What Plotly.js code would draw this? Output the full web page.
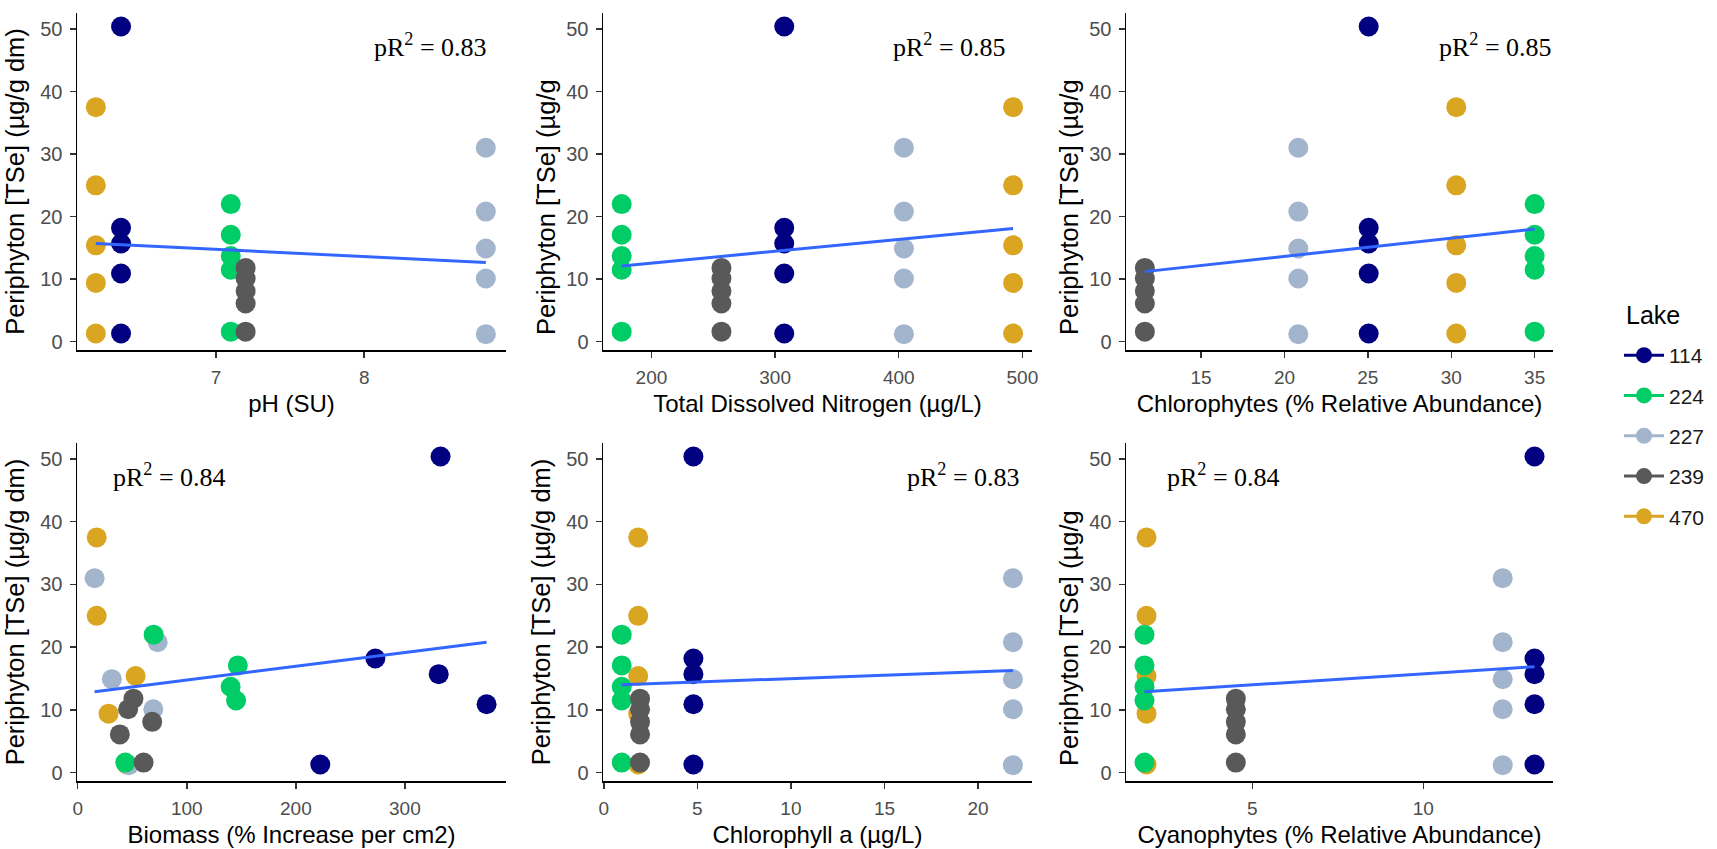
<!DOCTYPE html>
<html>
<head>
<meta charset="utf-8">
<script src="https://cdn.plot.ly/plotly-3.0.1.min.js"></script>
<style>
html,body{margin:0;padding:0;background:#ffffff;}
#chart{width:1717px;height:849px;}
</style>
</head>
<body>
<div id="chart"></div>
<script>
// ---------------- DATA ----------------
const lakes = ['114', '224', '227', '239', '470'];
const lakeColors = ['#000080', '#00CD66', '#A2B5CD', '#595959', '#DAA520'];

// Periphyton [TSe] (µg/g dm), five samples per lake
const tse114 = [50.4, 18.2, 15.7, 10.9, 1.3];
const tse224 = [22.0, 17.1, 13.7, 11.5, 1.6];
const tse227 = [31.0, 20.8, 14.9, 10.1, 1.2];
const tse239 = [11.8, 10.1, 8.1, 6.1, 1.6];
const tse470 = [37.5, 25.0, 15.4, 9.4, 1.3];

// One value per lake (order of `lakes`)
const pH = [6.36, 7.10, 8.82, 7.20, 6.19];
const totalDissolvedN = [307.4, 175.9, 404.2, 256.6, 492.5];
const chlorophytes = [25.05, 35.0, 20.83, 11.63, 30.3];
const chlorophyllA = [4.79, 0.96, 21.86, 1.94, 1.84];
const cyanophytes = [13.25, 1.85, 12.32, 4.52, 1.91];

// Biomass (% increase per cm2), one value per sample
const biomass114 = [332.7, 272.9, 331.0, 374.9, 222.4];
const biomass224 = [69.6, 146.8, 140.2, 145.2, 43.6];
const biomass227 = [15.5, 73.3, 31.3, 69.3, 47.0];
const biomass239 = [51.1, 46.2, 68.3, 38.6, 60.4];
const biomass470 = [17.4, 17.4, 53.1, 28.3, 45.0];

// Fitted (lm) line end points per panel
const fitX_pH = [6.19, 8.82],            fitY_pH = [15.7, 12.66];
const fitX_tdn = [175.9, 492.5],         fitY_tdn = [12.1, 18.1];
const fitX_chloro = [11.63, 35.0],       fitY_chloro = [11.2, 18.0];
const fitX_biomass = [15.5, 374.9],      fitY_biomass = [12.9, 20.8];
const fitX_chlA = [0.96, 21.86],         fitY_chlA = [14.0, 16.3];
const fitX_cyano = [1.85, 13.25],        fitY_cyano = [12.9, 16.9];

const pR2 = ['0.83', '0.85', '0.85', '0.84', '0.83', '0.84'];
const xTitles = ['pH (SU)', 'Total Dissolved Nitrogen (µg/L)', 'Chlorophytes (% Relative Abundance)',
                 'Biomass (% Increase per cm2)', 'Chlorophyll a (µg/L)', 'Cyanophytes (% Relative Abundance)'];
const yTitleFull = 'Periphyton [TSe] (µg/g dm)';
const yTitleCut = 'Periphyton [TSe] (µg/g';
const legendTitle = 'Lake';
const xTicks = [[7, 8], [200, 300, 400, 500], [15, 20, 25, 30, 35], [0, 100, 200, 300], [0, 5, 10, 15, 20], [5, 10]];
const yTicks = [0, 10, 20, 30, 40, 50];

// ---------------- BUILD ----------------
const tseByLake = [tse114, tse224, tse227, tse239, tse470];
const biomassByLake = [biomass114, biomass224, biomass227, biomass239, biomass470];
const perLake = [pH, totalDissolvedN, chlorophytes, null, chlorophyllA, cyanophytes];
const fits = [[fitX_pH, fitY_pH], [fitX_tdn, fitY_tdn], [fitX_chloro, fitY_chloro],
              [fitX_biomass, fitY_biomass], [fitX_chlA, fitY_chlA], [fitX_cyano, fitY_cyano]];
const drawOrder = [4, 2, 1, 3, 0]; // 470, 227, 224, 239, 114 (navy on top)

const W = 1717, H = 849;
const colsPx = [[77, 506], [603, 1032], [1126, 1553]];
const rowsPx = [[13, 350], [443, 781]];
const xRanges = [[6.063, 8.956], [160.8, 507.8], [10.5, 36.1], [-0.66, 392.7], [-0.04, 22.88], [1.31, 13.79]];
const yRange = [-1.33, 52.55];
const annX = [8.448, 441, 32.66, 84.2, 19.23, 4.15];

const sansFont = 'Liberation Sans, Arial, sans-serif';
const serifFont = 'Liberation Serif, Times New Roman, serif';

const traces = [];
const layout = {
  width: W, height: H,
  margin: {l: 0, r: 0, t: 0, b: 0},
  paper_bgcolor: '#ffffff', plot_bgcolor: '#ffffff',
  font: {family: sansFont, color: '#000000'},
  showlegend: true,
  legend: {
    x: 1619 / W, xanchor: 'left', y: 1 - 335 / H, yanchor: 'top',
    font: {family: sansFont, size: 21, color: '#1a1a1a'},
    tracegroupgap: 10, itemwidth: 40, bgcolor: 'rgba(0,0,0,0)'
  },
  annotations: [{
    text: legendTitle, xref: 'paper', yref: 'paper', x: 1624 / W, y: 1 - 315 / H,
    xanchor: 'left', yanchor: 'middle', showarrow: false,
    font: {family: sansFont, size: 25, color: '#000000'}
  }]
};

for (let p = 0; p < 6; p++) {
  const r = Math.floor(p / 3), c = p % 3;
  const sfx = p === 0 ? '' : String(p + 1);
  const xa = 'x' + sfx, ya = 'y' + sfx;
  const dx = colsPx[c], dy = rowsPx[r];
  layout['xaxis' + sfx] = {
    domain: [dx[0] / W, dx[1] / W], anchor: ya, range: xRanges[p],
    tickmode: 'array', tickvals: xTicks[p], ticktext: xTicks[p].map(String),
    showgrid: false, zeroline: false, showline: true, linecolor: '#000000', linewidth: 1.5,
    ticks: 'outside', ticklen: 6, tickwidth: 1.5, tickcolor: '#333333', ticklabelstandoff: 4,
    tickfont: {family: sansFont, size: 19, color: '#4D4D4D'},
    title: {text: xTitles[p], font: {family: sansFont, size: 24, color: '#000000'}, standoff: 8},
    automargin: false, fixedrange: true
  };
  const showFull = (p === 0 || p === 3 || p === 4);
  const yax = {
    domain: [1 - dy[1] / H, 1 - dy[0] / H], anchor: xa, range: yRange,
    tickmode: 'array', tickvals: yTicks, ticktext: yTicks.map(String),
    showgrid: false, zeroline: false, showline: true, linecolor: '#000000', linewidth: 1.5,
    ticks: 'outside', ticklen: 6, tickwidth: 1.5, tickcolor: '#333333', ticklabelstandoff: 3,
    tickfont: {family: sansFont, size: 20, color: '#4D4D4D'},
    automargin: false, fixedrange: true
  };
  if (showFull) {
    yax.title = {text: yTitleFull, font: {family: sansFont, size: 25.5, color: '#000000'}, standoff: 8};
  } else {
    layout.annotations.push({
      text: yTitleCut, xref: 'paper', yref: 'paper',
      x: (dx[0] - 57) / W, y: 1 - (dy[1] - 13) / H,
      xanchor: 'center', yanchor: 'bottom', textangle: -90, showarrow: false,
      font: {family: sansFont, size: 25.5, color: '#000000'}
    });
  }
  layout['yaxis' + sfx] = yax;
  layout.annotations.push({
    text: 'pR<sup>2</sup> = ' + pR2[p], xref: xa, yref: ya, x: annX[p], y: 47.3,
    xanchor: 'center', yanchor: 'middle', showarrow: false,
    font: {family: serifFont, size: 26, color: '#000000'}
  });

  drawOrder.forEach(k => {
    const xs = p === 3 ? biomassByLake[k] : tseByLake[k].map(() => perLake[p][k]);
    traces.push({
      type: 'scatter', mode: 'markers', x: xs, y: tseByLake[k],
      xaxis: xa, yaxis: ya, name: lakes[k], legendgroup: lakes[k], showlegend: false,
      marker: {color: lakeColors[k], size: 20, line: {width: 0}},
      hoverinfo: 'x+y+name'
    });
  });
  traces.push({
    type: 'scatter', mode: 'lines', x: fits[p][0], y: fits[p][1],
    xaxis: xa, yaxis: ya, showlegend: false,
    line: {color: '#3366FF', width: 3}, hoverinfo: 'skip'
  });
}

// legend keys (point + line), no plotted data
lakes.forEach((lk, k) => {
  traces.push({
    type: 'scatter', mode: 'lines+markers', x: [null], y: [null],
    xaxis: 'x', yaxis: 'y', name: lk, legendgroup: lk, showlegend: true, legendrank: k + 1,
    marker: {color: lakeColors[k], size: 20}, line: {color: lakeColors[k], width: 3},
    hoverinfo: 'skip'
  });
});

Plotly.newPlot('chart', traces, layout, {staticPlot: true, displayModeBar: false});
</script>
</body>
</html>
